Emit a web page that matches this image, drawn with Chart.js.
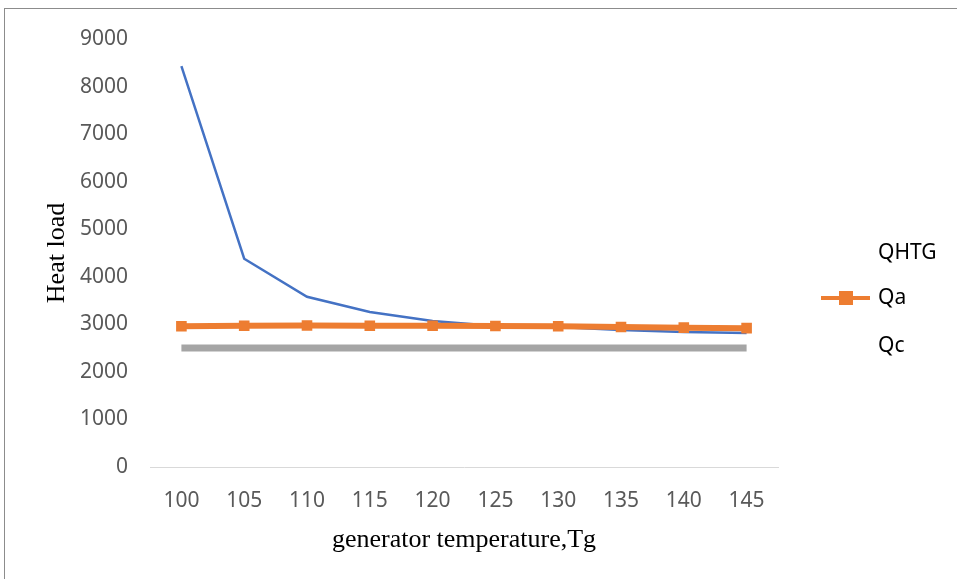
<!DOCTYPE html>
<html>
<head>
<meta charset="utf-8">
<script src="https://cdn.jsdelivr.net/npm/chart.js@4.4.1/dist/chart.umd.min.js"></script>
<style>
    body { margin: 0; background: #fff; }
    #wrap { position: relative; width: 957px; height: 579px; }
    #frame { position: absolute; left: 4px; top: 8px; right: 0; bottom: 0; border-top: 1px solid #8c8c8c; border-left: 1px solid #8c8c8c; }
    canvas { position: absolute; left: 0; top: 0; }
</style>
</head>
<body>
<div id="wrap">
    <div id="frame"></div>
    <canvas id="chart" width="957" height="579"></canvas>
</div>
<script>
const temps = ['100', '105', '110', '115', '120', '125', '130', '135', '140', '145'];
const qhtg = [8430, 4380, 3580, 3260, 3070, 2965, 2945, 2880, 2840, 2820];
const qa = [2960, 2970, 2975, 2970, 2970, 2965, 2960, 2945, 2930, 2920];
const qc = [2500, 2500, 2500, 2500, 2500, 2500, 2500, 2500, 2500, 2500];
const yTicks = [0, 1000, 2000, 3000, 4000, 5000, 6000, 7000, 8000, 9000];

const tickFont = { family: "'Noto Sans', sans-serif", size: 21 };
const titleFont = { family: "'Liberation Serif', 'Times New Roman', serif", size: 26 };

// legend drawn by hand so the chart area stays where it is in the reference
const sideLegend = {
    id: 'sideLegend',
    afterDraw(chart) {
        const ctx = chart.ctx;
        const rows = [253, 298, 346];
        ctx.save();
        ctx.font = "21px 'Noto Sans', sans-serif";
        ctx.fillStyle = '#000';
        ctx.textBaseline = 'middle';
        chart.data.datasets.forEach((ds, i) => {
            const y = rows[i];
            if (ds.legendMark) {
                ctx.strokeStyle = ds.borderColor;
                ctx.lineWidth = 4;
                ctx.beginPath();
                ctx.moveTo(821, y);
                ctx.lineTo(870, y);
                ctx.stroke();
                ctx.fillStyle = ds.borderColor;
                ctx.fillRect(839, y - 7, 14, 14);
                ctx.fillStyle = '#000';
            }
            ctx.fillText(ds.label, 878, y);
        });
        ctx.restore();
    }
};

new Chart(document.getElementById('chart'), {
    type: 'line',
    data: {
        labels: temps,
        datasets: [{
            label: 'QHTG',
            data: qhtg,
            borderColor: '#4472C4',
            borderWidth: 2.5,
            pointRadius: 0,
            tension: 0,
            order: 2
        }, {
            label: 'Qa',
            data: qa,
            borderColor: '#ED7D31',
            backgroundColor: '#ED7D31',
            borderWidth: 6,
            pointStyle: 'rect',
            pointRadius: 7.5,
            pointBorderWidth: 0,
            legendMark: true,
            order: 1
        }, {
            label: 'Qc',
            data: qc,
            borderColor: '#A5A5A5',
            borderWidth: 7,
            borderCapStyle: 'butt',
            pointRadius: 0,
            order: 3
        }]
    },
    options: {
        responsive: false,
        animation: false,
        layout: { padding: { left: 0, top: 39, right: 179, bottom: 0 } },
        plugins: {
            legend: { display: false },
            tooltip: { enabled: false }
        },
        scales: {
            x: {
                offset: true,
                grid: { display: false, drawTicks: false },
                border: { display: true, color: '#d9d9d9', width: 1 },
                ticks: { color: '#595959', font: tickFont, padding: 21, maxRotation: 0 },
                title: { display: true, text: 'generator temperature,Tg', color: '#000', font: titleFont, padding: { top: 0, bottom: 23 } },
                afterFit: (scale) => { scale.height = 112; }
            },
            y: {
                min: 0,
                max: 9000,
                afterBuildTicks: (scale) => { scale.ticks = yTicks.map(v => ({ value: v })); },
                grid: { display: false, drawTicks: false },
                border: { display: false },
                ticks: { color: '#595959', font: tickFont, padding: 22, callback: (v) => String(v) },
                title: { display: true, text: 'Heat load', color: '#000', font: titleFont, padding: { top: 42, bottom: 0 } },
                afterFit: (scale) => { scale.width = 150; }
            }
        }
    },
    plugins: [sideLegend]
});
</script>
</body>
</html>
